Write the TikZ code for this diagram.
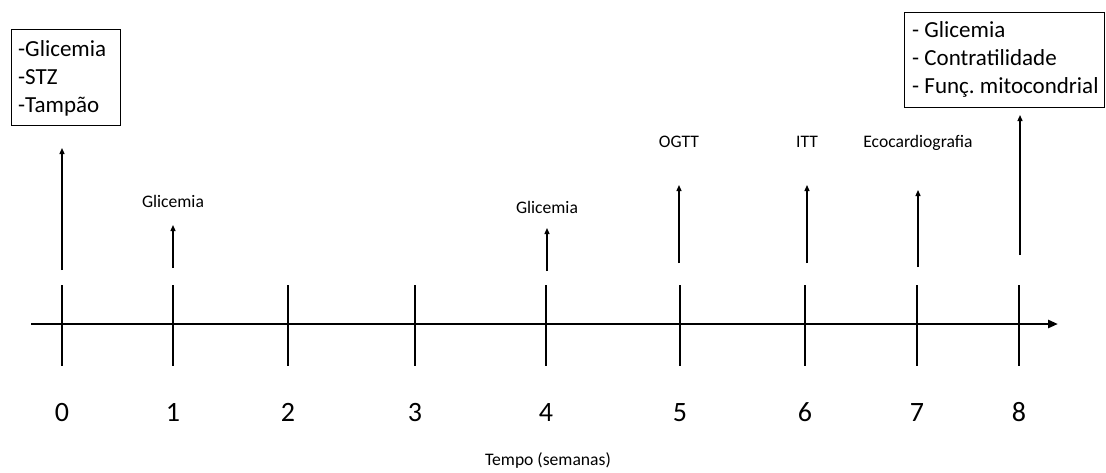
\documentclass[tikz,border=0pt]{standalone}
\usepackage{fontspec}
\setmainfont{Carlito}
\usetikzlibrary{arrows.meta,positioning}

\begin{document}
\begin{tikzpicture}[x=1pt,y=-1pt]
	\tikzset{
		eixo/.style={line width=2.8pt,-{Triangle[length=10pt,width=8pt]}},
		marca/.style={line width=2.6pt},
		seta/.style={line width=1.3pt,-{Triangle[length=6pt,width=5pt]}},
		rotulo/.style={font=\fontsize{17.6}{20}\selectfont,inner sep=0pt,anchor=base},
		numero/.style={font=\fontsize{28}{30}\selectfont,inner sep=0pt,anchor=base},
		caixa/.style={draw,line width=1pt},
		linha/.style={font=\fontsize{23}{28}\selectfont,inner sep=0pt,anchor=base west}
	}
	\useasboundingbox (0,0) rectangle (1106,472);
	% eixo do tempo
	\coordinate (ini) at (31,324);
	\coordinate (fim) at (1058,324);
	\draw[eixo] (ini) -- (fim);
	% marcas e semanas
	\foreach \n/\x in {0/62,1/173,2/288,3/415,4/546,5/680,6/805,7/917,8/1019}{
		\coordinate (m\n a) at (\x,285);
		\coordinate (m\n b) at (\x,366);
		\draw[marca] (m\n a) -- (m\n b);
		\node[numero] (d\n) at (\x,421) {\n};
	}
	\node[rotulo] (tempo) at (548,465) {Tempo (semanas)};
	% setas dos procedimentos
	\foreach \n/\x/\yb/\yt in {0/62/270/148,1/173/268/225,4/547/271/228,5/679/263/185,
		6/807/263/185,7/918/267/190,8/1020/255/115}{
		\coordinate (b\n) at (\x,\yb);
		\coordinate (t\n) at (\x,\yt);
		\draw[seta] (b\n) -- (t\n);
	}
	% rotulos
	\node[rotulo] (gli1) at (173,207) {Glicemia};
	\node[rotulo] (gli4) at (547,213) {Glicemia};
	\node[rotulo] (ogtt) at (679,147) {OGTT};
	\node[rotulo] (itt)  at (807,147) {ITT};
	\node[rotulo] (eco)  at (918,147) {Ecocardiografia};
	% caixa da semana 0
	\coordinate (ca0) at (11,29);
	\coordinate (ca1) at (120,125);
	\draw[caixa] (ca0) rectangle (ca1);
	\foreach \i/\t in {0/-Glicemia,1/-STZ,2/-Tampão}
		\node[linha] (ini\i) at (18,56+28*\i) {\t};
	% caixa da semana 8
	\coordinate (cb0) at (904,12);
	\coordinate (cb1) at (1104,107);
	\draw[caixa] (cb0) rectangle (cb1);
	\foreach \i/\t in {0/{- Glicemia},1/{- Contratilidade},2/{- Funç.\ mitocondrial}}
		\node[linha] (fin\i) at (912,37+28*\i) {\t};
\end{tikzpicture}
\end{document}
